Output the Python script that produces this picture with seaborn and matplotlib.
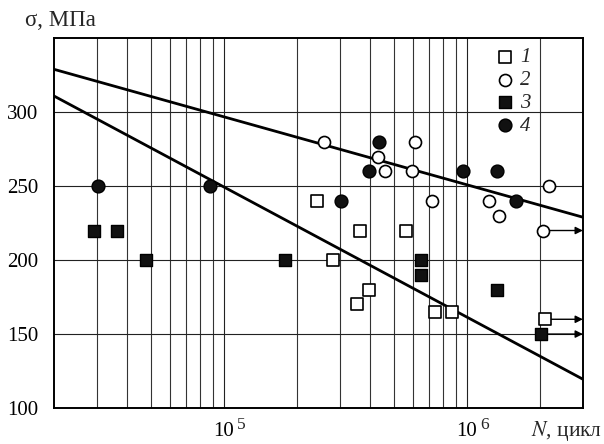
import numpy as np
import pandas as pd
import matplotlib
matplotlib.use('Agg')
import matplotlib.pyplot as plt
import seaborn as sns

# data: N (cycles), sigma (MPa)
n1 = [2.41e5, 2.81e5, 3.63e5, 5.6e5, 3.95e5, 3.55e5, 7.4e5, 8.7e5, 2.1e6]
s1 = [240, 200, 220, 220, 180, 170, 165, 165, 160]

n2 = [2.58e5, 4.3e5, 4.6e5, 5.94e5, 6.1e5, 7.2e5, 1.23e6, 1.36e6, 2.17e6, 2.06e6]
s2 = [280, 270, 260, 260, 280, 240, 240, 230, 250, 220]

n3 = [2.94e4, 3.63e4, 4.8e4, 1.78e5, 6.5e5, 6.5e5, 1.33e6, 2.02e6]
s3 = [220, 220, 200, 200, 200, 190, 180, 150]

n4 = [3.03e4, 8.75e4, 3.03e5, 3.95e5, 4.35e5, 9.6e5, 1.33e6, 1.59e6]
s4 = [250, 250, 240, 260, 280, 260, 260, 240]

# run-outs (not broken) -> arrows to the right
runout_n = [2.06e6, 2.1e6, 2.02e6]
runout_s = [220, 160, 150]

# fatigue curves (end points, log N scale)
fit_n = [2e4, 3e6]
fit_upper = [329, 229]
fit_lower = [311, 119.5]

xticks = [1e5, 1e6]
xexp = ['5', '6']

sns.set_theme(style='white')
plt.rcParams['font.family'] = ['Liberation Serif', 'DejaVu Serif']
plt.rcParams['mathtext.fontset'] = 'stix'

fig = plt.figure(figsize=(6.04, 4.44), dpi=100)
ax = fig.add_axes([0.089, 0.081, 0.876, 0.833])
ax.set_xscale('log')
ax.set_xlim(2e4, 3e6)
ax.set_ylim(100, 350)

# grid
ax.set_yticks([100, 150, 200, 250, 300])
ax.set_xticks(xticks)
ax.set_xticks([k * 10**e for e in (4, 5, 6) for k in range(2, 10)
               if 2e4 < k * 10**e < 3e6], minor=True)
ax.grid(True, which='major', axis='both', color='#222222', lw=0.8)
ax.grid(True, which='minor', axis='x', color='#333333', lw=0.8)
ax.set_axisbelow(True)

for sp in ax.spines.values():
    sp.set_color('black')
    sp.set_linewidth(1.4)

# arrows for run-outs
for n, s in zip(runout_n, runout_s):
    ax.annotate('', xy=(3e6, s), xytext=(n, s),
                arrowprops=dict(arrowstyle='-|>', color='black', lw=1.0,
                                mutation_scale=11, shrinkA=0, shrinkB=0),
                zorder=2)

sns.lineplot(x=fit_n, y=fit_upper, color='black', lw=2.0, ax=ax, zorder=3)
sns.lineplot(x=fit_n, y=fit_lower, color='black', lw=2.0, ax=ax, zorder=3)

ms = 75
sns.scatterplot(x=n1, y=s1, marker='s', s=ms, facecolor='white', edgecolor='black',
                linewidth=1.2, ax=ax, zorder=4, label='1')
sns.scatterplot(x=n2, y=s2, marker='o', s=ms, facecolor='white', edgecolor='black',
                linewidth=1.2, ax=ax, zorder=4, label='2')
sns.scatterplot(x=n3, y=s3, marker='s', s=ms, facecolor='#111111', edgecolor='black',
                linewidth=1.0, ax=ax, zorder=4, label='3')
sns.scatterplot(x=n4, y=s4, marker='o', s=ms + 10, facecolor='#111111', edgecolor='black',
                linewidth=1.0, ax=ax, zorder=4, label='4')

leg = ax.legend(loc='upper left', bbox_to_anchor=(0.833, 0.974), frameon=False,
                fontsize=15, handletextpad=0.24, labelspacing=0.15,
                borderaxespad=0, borderpad=0, handlelength=1.0)
for t in leg.get_texts():
    t.set_fontstyle('italic')

ax.tick_params(axis='both', which='both', length=0, labelsize=15, colors='black')
ax.tick_params(axis='x', pad=10)
ax.tick_params(axis='y', pad=11)
ax.set_xticklabels(['10'] * len(xticks))
# exponents of the x tick labels
for x, e in zip(xticks, xexp):
    ax.annotate(e, xy=(x, 0), xycoords=('data', 'axes fraction'),
                xytext=(12.5, -12), textcoords='offset points',
                fontsize=12.5, ha='center', va='center')
ax.set_xlabel('')
ax.set_ylabel('')

fig.text(0.041, 0.953, 'σ, МПа', fontsize=16.5, ha='left', va='center')
fig.text(0.997, 0.030, '$N$, цикл', fontsize=15.5, ha='right', va='center')

fig.savefig('out.png', dpi=100)
